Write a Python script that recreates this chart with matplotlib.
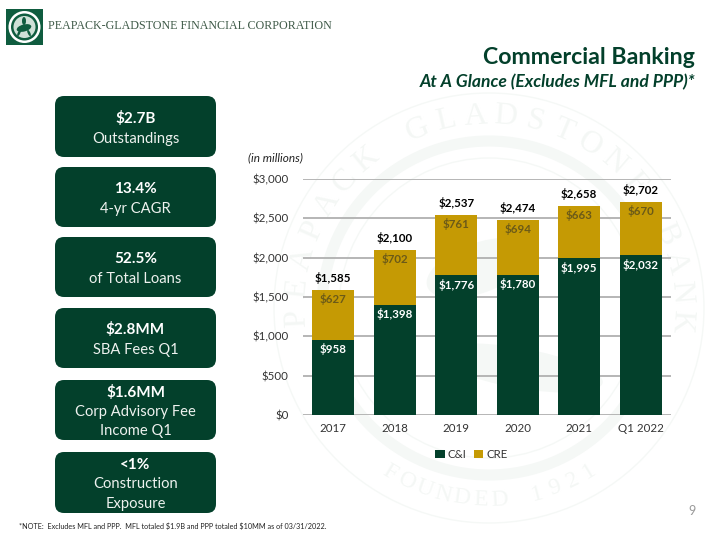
import numpy as np
import matplotlib
matplotlib.use("Agg")
import matplotlib.pyplot as plt
from matplotlib.patches import FancyBboxPatch, Circle, Rectangle, Ellipse

plt.rcParams['font.family'] = ['Lato', 'DejaVu Sans']

years = ["2017", "2018", "2019", "2020", "2021", "Q1 2022"]
c_i = [958, 1398, 1776, 1780, 1995, 2032]
cre = [627, 702, 761, 694, 663, 670]
totals = [1585, 2100, 2537, 2474, 2658, 2702]
y_ticks = [0, 500, 1000, 1500, 2000, 2500, 3000]

box_heads = ["$2.7B", "13.4%", "52.5%", "$2.8MM", "$1.6MM", "<1%"]
box_subs = ["Outstandings", "4-yr CAGR", "of Total Loans", "SBA Fees Q1",
            "Corp Advisory Fee\nIncome Q1", "Construction\nExposure"]
box_tops = [96, 167, 237, 308, 380, 452]
box_bottoms = [157, 227, 297, 368, 440, 513]

GREEN = "#03402b"
GOLD = "#c59a04"
LOGO = "#0f5c3f"
WATERMARK = "#f5f8f6"
WM_TEXT = "#f4f7f5"

fig = plt.figure(figsize=(7.2, 5.4), dpi=100, facecolor="white")

# --- background layer, in pixels
bg = fig.add_axes([0, 0, 1, 1], zorder=0)
bg.set_xlim(0, 720)
bg.set_ylim(540, 0)
bg.axis("off")

# seal watermark behind the chart
seal_x, seal_y = 489, 308
for r, lw in [(215, 1.0), (167, 8.0), (150, 1.0)]:
    bg.add_patch(Circle((seal_x, seal_y), r, fill=False, ec=WATERMARK, lw=lw))
bg.add_patch(Ellipse((seal_x - 10, seal_y - 40), 110, 50, angle=-20, fc=WATERMARK, ec="none"))
bg.add_patch(Ellipse((seal_x + 30, seal_y + 60), 170, 40, angle=10, fc=WATERMARK, ec="none"))

seal_top = "PEAPACK GLADSTONE BANK"
for i, ch in enumerate(seal_top):
    a = np.radians(-183 + i * 187 / (len(seal_top) - 1))
    bg.text(seal_x + 192 * np.cos(a), seal_y + 192 * np.sin(a), ch, color=WM_TEXT,
            fontsize=23, family="Liberation Serif", ha="center", va="center",
            rotation=-np.degrees(a) - 90)
seal_bottom = "FOUNDED 1921"
for i, ch in enumerate(seal_bottom):
    a = np.radians(121 - i * 62.5 / (len(seal_bottom) - 1))
    bg.text(seal_x + 192 * np.cos(a), seal_y + 192 * np.sin(a), ch, color=WM_TEXT,
            fontsize=17, family="Liberation Serif", ha="center", va="center",
            rotation=90 - np.degrees(a))

# logo and company name
bg.add_patch(Rectangle((6, 9), 36.5, 36, fc=LOGO, ec="none"))
bg.add_patch(Circle((24.5, 27), 16, fc="white", ec="none"))
bg.add_patch(Circle((24.5, 27), 13.5, fc=LOGO, ec="none"))
bg.add_patch(Circle((24.5, 27), 11, fc="#cfe0d7", ec="none"))
bg.add_patch(Ellipse((24, 28), 15, 7, angle=-15, fc=LOGO, ec="none"))
bg.add_patch(Ellipse((24, 21), 4, 8, fc=LOGO, ec="none"))
bg.add_patch(Ellipse((19, 33), 2.5, 7, angle=25, fc=LOGO, ec="none"))
bg.add_patch(Ellipse((29, 33), 2.5, 7, angle=-25, fc=LOGO, ec="none"))
bg.text(48, 26, "PEAPACK-GLADSTONE FINANCIAL CORPORATION", family="Liberation Serif",
        fontsize=8.65, color="#3f5a48", va="center", ha="left")

# titles
bg.text(695, 58, "Commercial Banking", fontsize=16.7, fontweight="bold", color=GREEN,
        ha="right", va="center")
bg.text(695, 82, "At A Glance (Excludes MFL and PPP)*", fontsize=12.6, fontweight="bold",
        style="italic", color=GREEN, ha="right", va="center")
bg.text(248, 158, "(in millions)", fontsize=8.5, style="italic", color="#222222",
        ha="left", va="center")

# KPI boxes on the left
for head, sub, top, bottom in zip(box_heads, box_subs, box_tops, box_bottoms):
    bg.add_patch(FancyBboxPatch((55 + 7, top + 7), 161 - 14, bottom - top - 14,
                                boxstyle="round,pad=7,rounding_size=9", fc=GREEN, ec="none"))
    n_lines = sub.count("\n") + 2
    mid = (top + bottom) / 2 + 2
    line_h = 19.5 if n_lines == 3 else 20
    bg.text(135.5, mid - line_h * (n_lines - 1) / 2, head.replace("$", r"\$"), fontsize=11,
            fontweight="bold", color="white", ha="center", va="center")
    for j, line in enumerate(sub.split("\n")):
        bg.text(135.5, mid - line_h * (n_lines - 1) / 2 + line_h * (j + 1), line, fontsize=10.6,
                color="#eef2ef", ha="center", va="center")

bg.text(19, 526, r"*NOTE:  Excludes MFL and PPP.  MFL totaled \$1.9B and PPP totaled \$10MM as of 03/31/2022.",
        fontsize=5.2, color="#222222", ha="left", va="center")
bg.text(692, 511, "9", fontsize=9, color="#9a9a9a", ha="center", va="center")

# --- the chart
ax = fig.add_axes([302.5 / 720, 1 - 415 / 540, 369 / 720, 236 / 540], zorder=1)
ax.patch.set_alpha(0)
x = np.arange(len(years))
ax.bar(x, c_i, width=0.68, color=GREEN, label="C&I", zorder=3)
ax.bar(x, cre, width=0.68, bottom=c_i, color=GOLD, label="CRE", zorder=3)
ax.set_xlim(-0.5, 5.5)
ax.set_ylim(0, 3000)
ax.set_yticks(y_ticks)
ax.set_yticklabels([r"\${:,}".format(v) for v in y_ticks])
ax.set_xticks(x)
ax.set_xticklabels(years)
ax.tick_params(length=0, labelsize=8.3, labelcolor="#333333")
ax.tick_params(axis="y", pad=10)
ax.tick_params(axis="x", pad=6)
ax.grid(axis="y", color="#b0b0b0", lw=1.3, zorder=1)
ax.set_axisbelow(True)
for s in ax.spines.values():
    s.set_visible(False)

for i in range(len(years)):
    ax.text(x[i], c_i[i] - 120, r"\${:,}".format(c_i[i]), color="white", fontsize=8.3,
            fontweight="bold", ha="center", va="center", zorder=4)
    ax.text(x[i], totals[i] - 115, r"\${:,}".format(cre[i]), color="#6b5a18", fontsize=8.3,
            fontweight="bold", ha="center", va="center", zorder=4)
    ax.text(x[i], totals[i] + 155, r"\${:,}".format(totals[i]), color="black", fontsize=8.3,
            fontweight="bold", ha="center", va="center", zorder=4)

ax.legend(loc="upper center", bbox_to_anchor=(0.458, -0.1), ncol=2, frameon=False, fontsize=8.3,
          handlelength=0.8, handleheight=0.8, handletextpad=0.3, columnspacing=0.6,
          labelcolor="#333333")

fig.savefig("out.png", dpi=100)
